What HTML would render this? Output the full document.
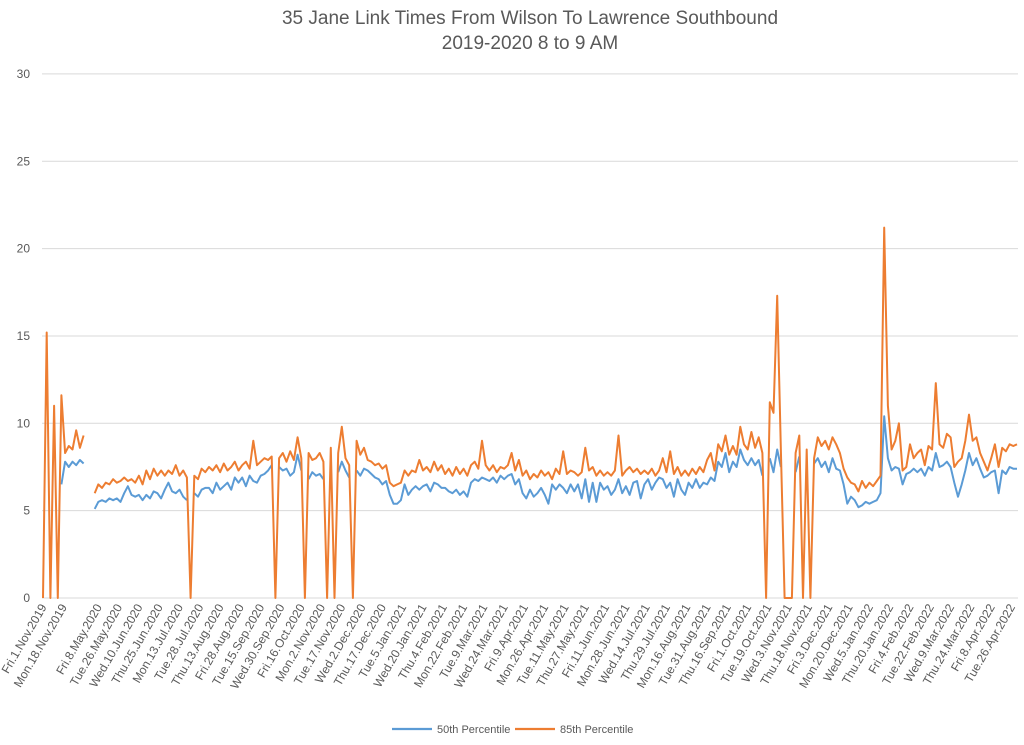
<!DOCTYPE html>
<html><head><meta charset="utf-8"><style>
html,body{margin:0;padding:0;background:#fff;}
svg{display:block;font-family:"Liberation Sans",sans-serif;}
</style></head><body>
<svg id="chart" width="1024" height="745" viewBox="0 0 1024 745">
<g>
<text x="530" y="24" text-anchor="middle" font-size="19" fill="#595959">35 Jane Link Times From Wilson To Lawrence Southbound</text>
<text x="530" y="49" text-anchor="middle" font-size="19" fill="#595959">2019-2020 8 to 9 AM</text>
</g>
<g id="grid"></g>
<g id="yaxis"></g>
<g id="xaxis"></g>
<g id="series"></g>
<g>
<g><line x1="392" y1="729" x2="432" y2="729" stroke="#5B9BD5" stroke-width="2.2"/><text x="437" y="733" font-size="11" fill="#595959">50th Percentile</text></g>
<g><line x1="515" y1="729" x2="555" y2="729" stroke="#ED7D31" stroke-width="2.2"/><text x="560" y="733" font-size="11" fill="#595959">85th Percentile</text></g>
</g>
</svg>
<script>
const yTicks = [0,5,10,15,20,25,30];
const xLabels = ["Fri.1.Nov.2019","Mon.18.Nov.2019","Fri.8.May.2020","Tue.26.May.2020","Wed.10.Jun.2020","Thu.25.Jun.2020","Mon.13.Jul.2020","Tue.28.Jul.2020","Thu.13.Aug.2020","Fri.28.Aug.2020","Tue.15.Sep.2020","Wed.30.Sep.2020","Fri.16.Oct.2020","Mon.2.Nov.2020","Tue.17.Nov.2020","Wed.2.Dec.2020","Thu.17.Dec.2020","Tue.5.Jan.2021","Wed.20.Jan.2021","Thu.4.Feb.2021","Mon.22.Feb.2021","Tue.9.Mar.2021","Wed.24.Mar.2021","Fri.9.Apr.2021","Mon.26.Apr.2021","Tue.11.May.2021","Thu.27.May.2021","Fri.11.Jun.2021","Mon.28.Jun.2021","Wed.14.Jul.2021","Thu.29.Jul.2021","Mon.16.Aug.2021","Tue.31.Aug.2021","Thu.16.Sep.2021","Fri.1.Oct.2021","Tue.19.Oct.2021","Wed.3.Nov.2021","Thu.18.Nov.2021","Fri.3.Dec.2021","Mon.20.Dec.2021","Wed.5.Jan.2022","Thu.20.Jan.2022","Fri.4.Feb.2022","Tue.22.Feb.2022","Wed.9.Mar.2022","Thu.24.Mar.2022","Fri.8.Apr.2022","Tue.26.Apr.2022"];
const p85 = [0,15.2,0,11,0,11.6,8.3,8.7,8.5,9.6,8.6,9.3,null,null,
6.0,6.5,6.3,6.6,6.5,6.8,6.6,6.7,6.9,6.7,6.8,6.6,7.0,6.5,7.3,6.8,7.4,7.0,7.3,7.0,7.3,7.1,7.6,7.0,7.3,6.9,
0,7.0,6.8,7.4,7.2,7.5,7.3,7.6,7.2,7.7,7.3,7.5,7.8,7.3,7.6,7.8,7.4,9.0,7.6,7.8,
8.0,7.9,8.1,0,8.0,8.3,7.8,8.4,7.9,9.2,8.0,0,8.3,7.9,8.0,8.3,7.8,0,8.6,0,
8.3,9.8,8.0,7.6,0,9.0,8.2,8.6,7.9,7.8,7.6,7.7,7.4,7.6,6.6,6.4,6.5,6.6,7.3,7.0,
7.3,7.2,7.9,7.3,7.5,7.2,7.8,7.3,7.6,7.1,7.4,7.0,7.5,7.1,7.4,7.0,7.6,7.8,7.4,9.0,
7.6,7.3,7.6,7.2,7.5,7.4,7.6,8.3,7.3,7.9,7.0,7.3,6.8,7.1,6.9,7.3,7.0,7.2,6.8,7.4,
7.1,8.4,7.1,7.3,7.2,7.0,7.2,8.6,7.3,7.5,7.0,7.3,7.0,7.2,7.0,7.3,9.3,7.0,7.3,7.5,
7.2,7.4,7.1,7.3,7.1,7.4,7.0,7.3,8.0,7.2,8.4,7.1,7.5,7.0,7.3,7.0,7.4,7.1,7.5,7.2,
7.9,8.3,7.3,8.8,8.4,9.3,8.2,8.7,8.2,9.8,8.8,8.5,9.5,8.6,9.2,8.3,0,11.2,10.6,17.3,
8.4,0,0,0,8.3,9.3,0,8.5,0,8.0,9.2,8.7,9.0,8.5,9.2,8.8,8.3,7.4,6.9,6.6,
6.5,6.1,6.7,6.3,6.6,6.4,6.7,7.0,21.2,11.0,8.5,9.0,10.0,7.3,7.5,8.8,8.0,8.3,8.5,7.6,
8.7,8.5,12.3,8.8,8.6,9.4,9.2,7.5,7.8,8.0,9.0,10.5,9.0,9.2,8.3,7.8,7.3,8.0,8.8,7.5,
8.6,8.4,8.8,8.7,8.8];
const p50 = [null,null,null,null,null,6.5,7.8,7.5,7.8,7.6,7.9,7.7,null,null,
5.1,5.5,5.6,5.5,5.7,5.6,5.7,5.5,6.0,6.4,5.9,5.8,5.9,5.6,5.9,5.7,6.1,6.0,5.7,6.2,6.6,6.1,6.0,6.2,5.8,5.6,
null,6.0,5.8,6.2,6.3,6.3,6.0,6.6,6.2,6.4,6.6,6.2,6.9,6.6,6.9,6.4,7.0,6.7,6.6,7.0,
7.1,7.3,7.6,null,7.5,7.3,7.4,7.0,7.2,8.2,7.3,null,6.8,7.2,7.0,7.1,6.8,null,7.0,null,
7.2,7.8,7.3,6.9,null,7.3,7.0,7.4,7.3,7.1,6.9,6.8,6.5,6.7,5.9,5.4,5.4,5.6,6.5,5.9,
6.2,6.4,6.2,6.4,6.5,6.1,6.6,6.5,6.3,6.3,6.1,6.0,6.2,5.9,6.1,5.8,6.6,6.8,6.7,6.9,
6.8,6.7,6.9,6.6,7.0,6.8,7.0,7.1,6.5,6.8,6.0,5.7,6.2,5.8,6.0,6.3,5.9,5.4,6.5,6.2,
6.5,6.3,6.0,6.5,6.1,6.5,5.7,6.8,5.5,6.6,5.5,6.6,6.2,6.4,5.9,6.2,6.8,6.0,6.4,5.9,
6.6,6.7,5.7,6.5,6.8,6.2,6.6,6.9,6.8,6.3,6.6,5.8,6.8,6.2,5.9,6.6,6.3,6.8,6.3,6.6,
6.5,6.9,6.7,7.8,7.5,8.3,7.2,7.8,7.5,8.5,7.9,7.6,8.0,7.6,7.9,7.0,null,8.0,7.2,8.5,
7.5,null,null,null,7.2,8.1,null,6.8,null,7.7,8.0,7.5,7.8,7.2,8.0,7.4,7.3,6.5,5.4,5.8,
5.6,5.2,5.3,5.5,5.4,5.5,5.6,6.0,10.4,8.0,7.3,7.5,7.4,6.5,7.1,7.2,7.4,7.2,7.4,7.0,
7.5,7.3,8.3,7.5,7.6,7.8,7.5,6.6,5.8,6.5,7.3,8.3,7.6,8.0,7.4,6.9,7.0,7.2,7.3,6.0,
7.3,7.1,7.5,7.4,7.4];

const NS='http://www.w3.org/2000/svg';
const X0=43, X1=1017, Y0=598, PXU=17.47;
const n=p85.length;
function xs(i){return X0+i*(X1-X0)/(n-1);}
function ys(v){return Y0-v*PXU;}
function mk(tag,attrs,parent){const e=document.createElementNS(NS,tag);for(const k in attrs)e.setAttribute(k,attrs[k]);parent.appendChild(e);return e;}
const grid=document.getElementById('grid'), yax=document.getElementById('yaxis'), xax=document.getElementById('xaxis'), ser=document.getElementById('series');
yTicks.forEach(t=>{
  const l=mk('line',{x1:42,x2:1018,y1:ys(t),y2:ys(t),stroke:'#d9d9d9','stroke-width':1},grid);
  
  
  const tx=mk('text',{x:30,y:ys(t)+4,'text-anchor':'end','font-size':12,fill:'#595959'},yax);
  tx.textContent=t;
  
  
});
xLabels.forEach((lab,k)=>{
  const idx = k===0?0:(k===1?5.5:15+5.5*(k-2));
  const x=xs(idx)+4, y=607;
  const tx=mk('text',{x:x,y:y,'text-anchor':'end','font-size':12,fill:'#595959',transform:'rotate(-60 '+x+' '+y+')'},xax);
  tx.textContent=lab;
  
  
});
function drawLine(arr,color,name){
  let d='',pen=false;
  arr.forEach((v,i)=>{
    if(v===null){pen=false;return;}
    d+=(pen?'L':'M')+xs(i).toFixed(1)+' '+ys(v).toFixed(1)+' ';
    pen=true;
  });
  const p=mk('path',{d:d,fill:'none',stroke:color,'stroke-width':2,'stroke-linejoin':'round'},ser);
  
  
}
drawLine(p50,'#5B9BD5','line-50th-percentile');
drawLine(p85,'#ED7D31','line-85th-percentile');
</script>
</body></html>
